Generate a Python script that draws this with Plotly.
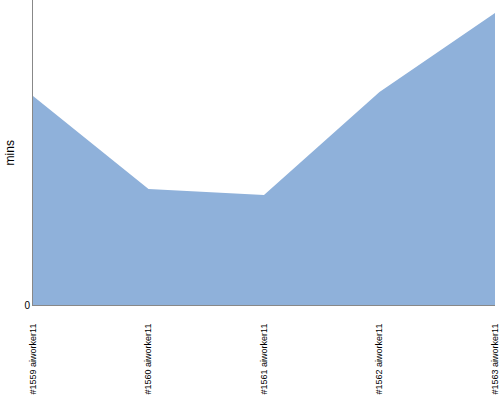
import plotly.graph_objects as go

categories = ["#1559 aiworker11", "#1560 aiworker11", "#1561 aiworker11", "#1562 aiworker11", "#1563 aiworker11"]
mins = [20.9, 11.6, 11.0, 21.3, 29.2]

fig = go.Figure(go.Scatter(
    x=categories, y=mins, mode="lines", fill="tozeroy",
    line=dict(color="#8fb1da", width=0), fillcolor="#8fb1da",
))
fig.update_layout(
    width=500, height=400,
    margin=dict(l=33, r=5, t=0, b=95, autoexpand=False),
    paper_bgcolor="white", plot_bgcolor="white",
    showlegend=False,
    font=dict(family="Liberation Sans, Arial", color="black", size=9),
    annotations=[dict(text="mins", xref="paper", yref="paper", x=-0.05, y=0.5,
                      xanchor="center", yanchor="middle", textangle=-90, showarrow=False,
                      font=dict(size=12))],
)
fig.update_xaxes(
    type="category", range=[0, 4.0001], tickangle=-90, showgrid=False, automargin=False,
    showline=True, linecolor="#888888", linewidth=1, ticks="", tickfont=dict(size=9),
    ticklabelstandoff=14,
)
fig.update_yaxes(
    range=[0, 30.5], tickvals=[0], ticktext=["0"], showgrid=False, zeroline=False, automargin=False,
    showline=True, linecolor="#888888", linewidth=1, tickfont=dict(size=10),
)
fig.write_html("out.html", config={"displayModeBar": False},
               post_script="document.body.style.margin='0';")
